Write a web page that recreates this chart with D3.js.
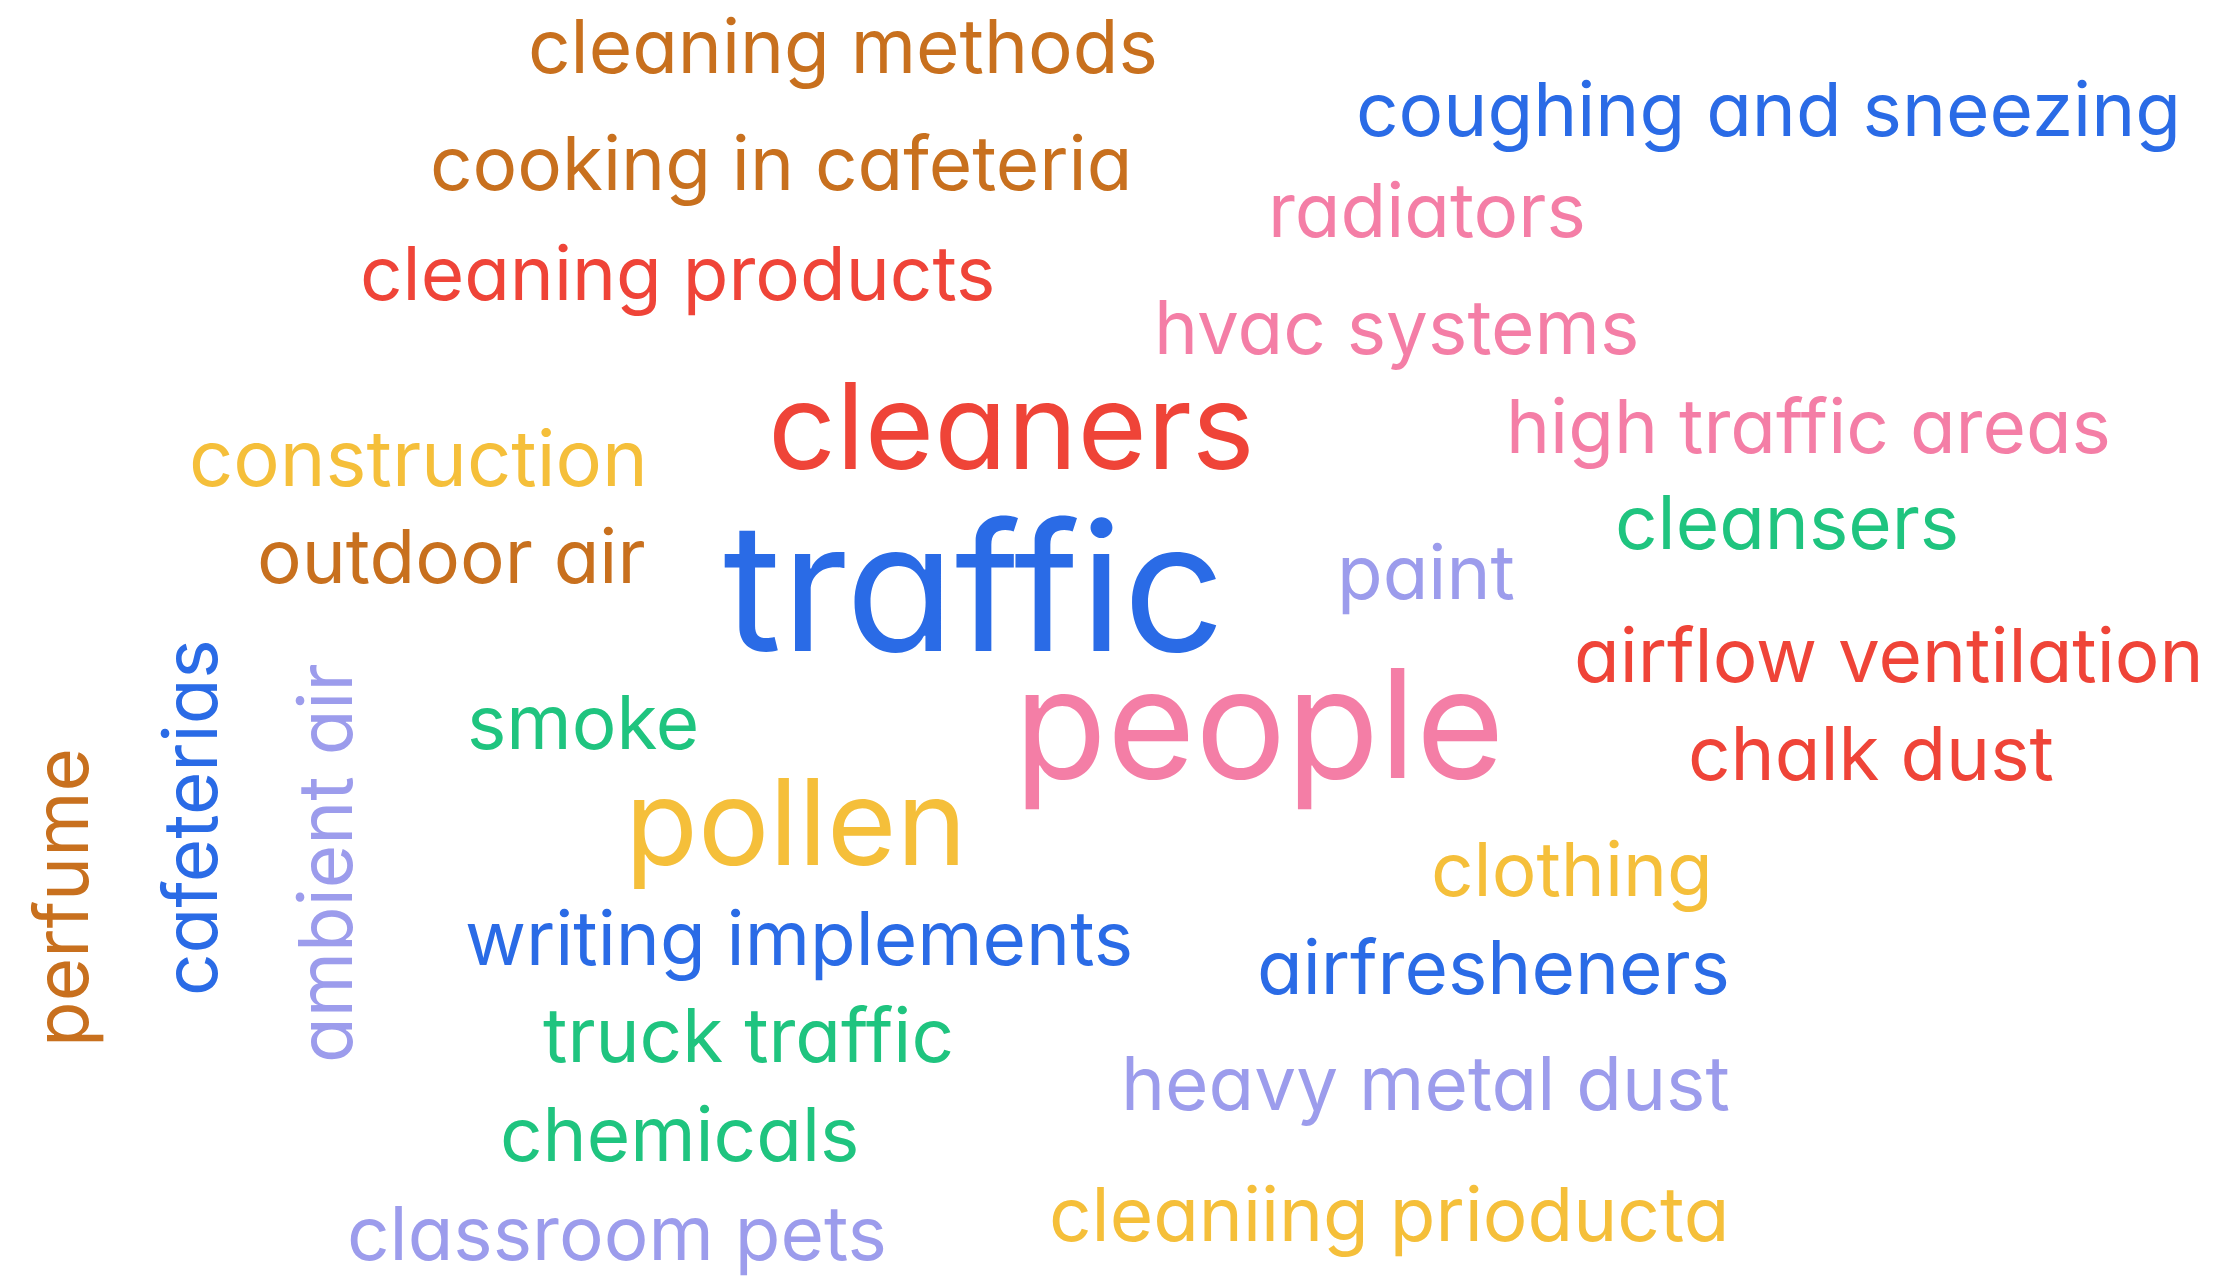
<!DOCTYPE html>
<html><head><meta charset="utf-8">
<script src="https://cdn.jsdelivr.net/npm/d3@7"></script>
<style>html,body{margin:0;padding:0;background:#fff;}text{font-family:Inter,"Open Sans",sans-serif;font-feature-settings:"cv11" 1;}</style>
</head><body><svg id="c" width="2213" height="1277"></svg>
<script>
// words of the cloud
const words = ["cleaning methods","cooking in cafeteria","cleaning products","coughing and sneezing","radiators","hvac systems","cleaners","high traffic areas","construction","outdoor air","traffic","paint","cleansers","airflow ventilation","chalk dust","people","smoke","pollen","clothing","writing implements","airfresheners","truck traffic","heavy metal dust","chemicals","classroom pets","cleaniing prioducta","perfume","cafeterias","ambient air"];
// relative weight of each word (drives font size)
const values = [5,5,5,5,5,5,8,5,5.2,5,12,5,5,5,5,10.2,5,8,5,5,5,5,5,5,5,5,5,5,5];
// colour group of each word
const colorKeys = ["brown","brown","red","blue","pink","pink","red","pink","yellow","brown","blue","lavender","green","red","red","pink","green","yellow","yellow","blue","blue","green","lavender","green","lavender","yellow","brown","blue","lavender"];

// layout (placement only): [x, baseline, rotation]
const layout = [[528,73,0],[430,190,0],[360,300,0],[1356,136,0],[1268,237,0],[1154,354,0],[768,469,0],[1506,453,0],[189,486,0],[257,583,0],[723,651,0],[1337,599,0],[1615,549,0],[1574,682,0],[1688,780,0],[1014,778,0],[467,749,0],[625,865,0],[1431,896,0],[465,965,0],[1257,994,0],[543,1062,0],[1121,1110,0],[500,1161,0],[347,1260,0],[1049,1241,0],[88,1047,-90],[217,996,-90],[352,1063,-90]];
const palette = {brown:"#c8701e",red:"#ef4438",blue:"#2a6be6",pink:"#f47ea6",yellow:"#f5bf3a",green:"#1fc47f",lavender:"#9c9cec"};

const size = d3.scaleLinear().domain([5,12]).range([74.6,178.4]);
const color = d3.scaleOrdinal().domain(Object.keys(palette)).range(Object.values(palette));

const data = words.map((w,i)=>({text:w, value:values[i], key:colorKeys[i], x:layout[i][0], y:layout[i][1], r:layout[i][2]}));

d3.select("#c").append("g").selectAll("text").data(data).join("text")
  .text(d=>d.text)
  .attr("font-size",d=>size(d.value))
  .attr("fill",d=>color(d.key))
  .attr("transform",d=>`translate(${d.x},${d.y}) rotate(${d.r})`);
</script></body></html>
